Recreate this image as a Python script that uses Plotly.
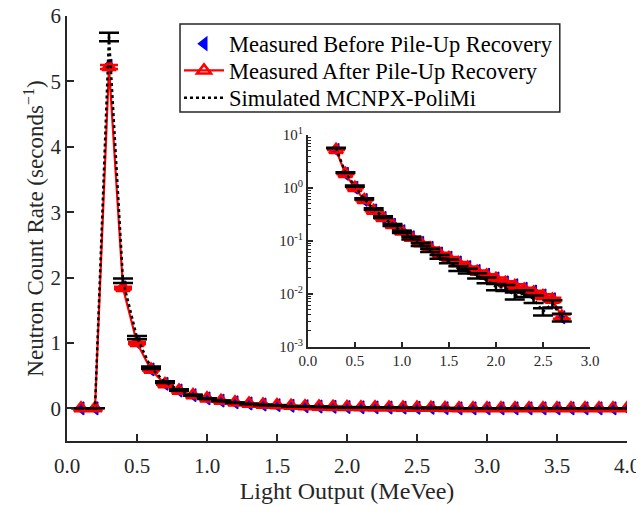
import plotly.graph_objects as go

# ---- data ----
light_output = [0.1, 0.2, 0.3, 0.4, 0.5, 0.6, 0.7, 0.8, 0.9, 1.0,
                1.1, 1.2, 1.3, 1.4, 1.5, 1.6, 1.7, 1.8, 1.9, 2.0,
                2.1, 2.2, 2.3, 2.4, 2.5, 2.6, 2.7, 2.8, 2.9, 3.0,
                3.1, 3.2, 3.3, 3.4, 3.5, 3.6, 3.7, 3.8, 3.9, 4.0]

measured_before = [0, 0, 5.24, 1.85, 1.01, 0.595, 0.375, 0.272, 0.202, 0.152,
                   0.117, 0.092, 0.074, 0.058, 0.048, 0.039, 0.032, 0.027, 0.023, 0.0195,
                   0.0165, 0.0145, 0.0125, 0.011, 0.0093, 0.0079, 0.0036, 0, 0, 0,
                   0, 0, 0, 0, 0, 0, 0, 0, 0, 0]
measured_before_err = [0, 0, 0.03, 0.02, 0.014, 0.01, 0.008, 0.006, 0.005, 0.0045,
                       0.004, 0.0035, 0.003, 0.0026, 0.0023, 0.002, 0.0018, 0.0016, 0.0014, 0.0013,
                       0.0012, 0.0011, 0.001, 0.0009, 0.0008, 0.0007, 0.00035, 0, 0, 0,
                       0, 0, 0, 0, 0, 0, 0, 0, 0, 0]

measured_after = [0, 0, 5.22, 1.84, 1.00, 0.59, 0.37, 0.27, 0.20, 0.15,
                  0.115, 0.090, 0.072, 0.057, 0.047, 0.038, 0.031, 0.026, 0.022, 0.019,
                  0.016, 0.014, 0.012, 0.0105, 0.0090, 0.0077, 0.0037, 0, 0, 0,
                  0, 0, 0, 0, 0, 0, 0, 0, 0, 0]
measured_after_err = [0, 0, 0.03, 0.02, 0.015, 0.011, 0.008, 0.0065, 0.0055, 0.0045,
                      0.004, 0.0035, 0.003, 0.0026, 0.0023, 0.002, 0.0018, 0.0016, 0.0014, 0.0013,
                      0.0012, 0.0011, 0.001, 0.0009, 0.0008, 0.0007, 0.00035, 0, 0, 0,
                      0, 0, 0, 0, 0, 0, 0, 0, 0, 0]

simulated = [0, 0, 5.68, 1.95, 1.08, 0.62, 0.40, 0.28, 0.20, 0.148,
             0.113, 0.085, 0.066, 0.050, 0.041, 0.030, 0.027, 0.022, 0.018, 0.0135,
             0.013, 0.0092, 0.0102, 0.0080, 0.0046, 0.0065, 0.0036, 0, 0, 0,
             0, 0, 0, 0, 0, 0, 0, 0, 0, 0]
simulated_err = [0, 0, 0.065, 0.035, 0.025, 0.018, 0.014, 0.011, 0.009, 0.0075,
                 0.0065, 0.0055, 0.0045, 0.004, 0.0035, 0.003, 0.0028, 0.0025, 0.0022, 0.0018,
                 0.0017, 0.0014, 0.0015, 0.0013, 0.0007, 0.0010, 0.0006, 0, 0, 0,
                 0, 0, 0, 0, 0, 0, 0, 0, 0, 0]

main_xticks = [0.0, 0.5, 1.0, 1.5, 2.0, 2.5, 3.0, 3.5, 4.0]
main_yticks = [0, 1, 2, 3, 4, 5, 6]
inset_xticks = [0.0, 0.5, 1.0, 1.5, 2.0, 2.5, 3.0]
inset_yticks = [1e-3, 1e-2, 1e-1, 1e0, 1e1]
inset_ylabels = ["10<sup>-3</sup>", "10<sup>-2</sup>", "10<sup>-1</sup>", "10<sup>0</sup>", "10<sup>1</sup>"]
inset_minor = [m * 10.0 ** e for e in (-3, -2, -1, 0) for m in range(2, 10)]

series_names = ["Measured Before Pile-Up Recovery",
                "Measured After Pile-Up Recovery",
                "Simulated MCNPX-PoliMi"]

FONT = "Liberation Serif, Times New Roman, serif"
AX = "#262626"
LEGEND_IDS = ["legend", "legend2", "legend3"]


def positive(xs, ys, es):
    keep = [i for i, v in enumerate(ys) if v > 0]
    return [xs[i] for i in keep], [ys[i] for i in keep], [es[i] for i in keep]


fig = go.Figure()

for axis_pair, show in ((("x", "y"), True), (("x2", "y2"), False)):
    xa, ya = axis_pair
    datasets = [(measured_before, measured_before_err),
                (measured_after, measured_after_err),
                (simulated, simulated_err)]
    if show:
        data = [(light_output, v, e) for v, e in datasets]
    else:
        data = [positive(light_output, v, e) for v, e in datasets]

    # blue: measured before
    fig.add_trace(go.Scatter(
        x=data[0][0], y=data[0][1], xaxis=xa, yaxis=ya,
        mode="markers", name=series_names[0], showlegend=show, legend=LEGEND_IDS[0],
        marker=dict(symbol="triangle-left", size=11, color="#0000ff",
                    line=dict(color="#0000ff", width=1.5)),
        error_y=dict(type="data", array=data[0][2], color="#0000ff",
                     thickness=1.5, width=4),
    ))
    # red: measured after
    fig.add_trace(go.Scatter(
        x=data[1][0], y=data[1][1], xaxis=xa, yaxis=ya,
        mode="lines+markers", name=series_names[1], showlegend=show, legend=LEGEND_IDS[1],
        line=dict(color="#ff0000", width=2.2),
        marker=dict(symbol="triangle-up-open", size=12, color="#ff0000",
                    line=dict(color="#ff0000", width=2.6)),
        error_y=dict(type="data", array=data[1][2], color="#ff0000",
                     thickness=2.5, width=9),
    ))
    # black: simulated
    fig.add_trace(go.Scatter(
        x=data[2][0], y=data[2][1], xaxis=xa, yaxis=ya,
        mode="lines", name=series_names[2], showlegend=show, legend=LEGEND_IDS[2],
        line=dict(color="#000000", width=2.5, dash="dot"),
        error_y=dict(type="data", array=data[2][2], color="#000000",
                     thickness=2.5, width=10),
    ))

axis_common = dict(showline=True, linecolor=AX, linewidth=1.5, mirror=False,
                   showgrid=False, zeroline=False, ticks="inside",
                   tickcolor=AX, tickwidth=1.5, automargin=False,
                   ticklabeloverflow="allow")

legend_common = dict(x=0.2, xanchor="left", yanchor="middle",
                     bgcolor="rgba(0,0,0,0)", borderwidth=0,
                     font=dict(size=22.5, family=FONT, color="#000000"),
                     itemwidth=40)
legend_rows = [0.934, 0.871, 0.807]

# the legend frame (white box with border) behind the three legend rows
fig.add_shape(type="rect", xref="paper", yref="paper",
              x0=0.2018, x1=0.880, y0=0.774, y1=0.981,
              line=dict(color=AX, width=1.5), fillcolor="white", layer="above")

fig.update_layout(
    width=636, height=498,
    margin=dict(l=59, r=17, t=8, b=65),
    paper_bgcolor="white", plot_bgcolor="white",
    font=dict(family=FONT, color=AX),
    xaxis=dict(axis_common, range=[0, 4], tickvals=main_xticks,
               ticktext=[f"{v:.1f}" for v in main_xticks], ticklen=7,
               ticklabelstandoff=5,
               tickfont=dict(size=21, family=FONT, color=AX),
               title=dict(text="Light Output (MeVee)",
                          font=dict(size=24, family=FONT, color=AX), standoff=4)),
    yaxis=dict(axis_common, range=[-0.5, 6], tickvals=main_yticks,
               ticktext=[str(v) for v in main_yticks], ticklen=7,
               tickfont=dict(size=21, family=FONT, color=AX),
               title=dict(text="Neutron Count Rate (seconds<sup>−1</sup>)",
                          font=dict(size=23, family=FONT, color=AX), standoff=0)),
    xaxis2=dict(axis_common, domain=[0.43, 0.934], anchor="y2", range=[0, 3],
                tickvals=inset_xticks, ticktext=[f"{v:.1f}" for v in inset_xticks],
                ticklen=5, tickfont=dict(size=15, family=FONT, color=AX)),
    yaxis2=dict(axis_common, domain=[0.222, 0.72], anchor="x2", type="log",
                range=[-3, 1], tickvals=inset_yticks, ticktext=inset_ylabels,
                ticklen=5, tickfont=dict(size=15, family=FONT, color=AX),
                minor=dict(ticks="inside", ticklen=3, tickcolor=AX, tickwidth=1,
                           tickmode="array", tickvals=inset_minor, showgrid=False)),
    legend=dict(legend_common, y=legend_rows[0]),
    legend2=dict(legend_common, y=legend_rows[1]),
    legend3=dict(legend_common, y=legend_rows[2]),
)

fig.write_html("out.html")
